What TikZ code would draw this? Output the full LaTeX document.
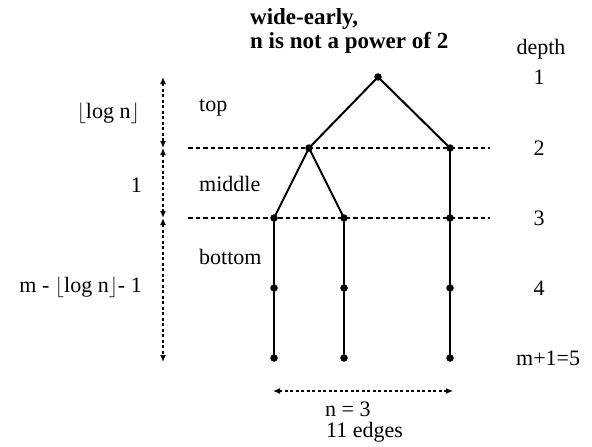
\documentclass[tikz,border=0pt]{standalone}
\usepackage{fontspec}
\setmainfont{Liberation Serif}
\usetikzlibrary{arrows.meta}
\begin{document}
\begin{tikzpicture}[x=1pt,y=-1pt,
  dot/.style={circle,fill=black,inner sep=0pt,minimum size=7.5pt},
  edge/.style={line width=2pt},
  levelline/.style={line width=1.6pt,dash pattern=on 4.5pt off 3pt},
  span/.style={line width=2pt,dash pattern=on 3pt off 2.5pt,{Latex[length=7pt,width=6pt]}-{Latex[length=7pt,width=6pt]}},
  lbl/.style={font=\fontsize{22}{22}\selectfont,inner sep=0pt},
  ttl/.style={font=\fontsize{23}{23}\selectfont\bfseries,inner sep=0pt,anchor=base west},
]
\useasboundingbox (0,0) rectangle (592,447);
% level lines
\coordinate (l1a) at (188,148); \coordinate (l1b) at (490,148);
\coordinate (l2a) at (188,218); \coordinate (l2b) at (490,218);
\draw[levelline] (l1a) -- (l1b);
\draw[levelline] (l2a) -- (l2b);
% tree
\node[dot] (r) at (378,77) {};
\node[dot] (a) at (309,148) {};
\node[dot] (b) at (450,148) {};
\node[dot] (c) at (274,218) {};
\node[dot] (d) at (344,218) {};
\node[dot] (e) at (450,218) {};
\node[dot] (f) at (274,288) {};
\node[dot] (g) at (344,288) {};
\node[dot] (h) at (450,288) {};
\node[dot] (i) at (274,358) {};
\node[dot] (j) at (344,358) {};
\node[dot] (k) at (450,358) {};
\draw[edge] (r.center) -- (a.center);
\draw[edge] (r.center) -- (b.center);
\draw[edge] (a.center) -- (c.center);
\draw[edge] (a.center) -- (d.center);
\draw[edge] (b.center) -- (e.center);
\draw[edge] (c.center) -- (f.center) -- (i.center);
\draw[edge] (d.center) -- (g.center) -- (j.center);
\draw[edge] (e.center) -- (h.center) -- (k.center);
% vertical spans
\coordinate (v0) at (163,77);
\coordinate (v1) at (163,148);
\coordinate (v2) at (163,218);
\coordinate (v3) at (163,362);
\draw[span] (v0) -- (v1);
\draw[span] (v1) -- (v2);
\draw[span] (v2) -- (v3);
% horizontal span
\coordinate (hl) at (273,391);
\coordinate (hr) at (453,391);
\draw[span] (hl) -- (hr);
% title
\node[ttl] (t1) at (250,24) {wide-early,};
\node[ttl] (t2) at (250,48) {n is not a power of 2};
% depth column
\node[lbl,anchor=base] (dh) at (541,54) {depth};
\node[lbl] (d1) at (539,77) {1};
\node[lbl] (d2) at (539,148) {2};
\node[lbl] (d3) at (539,218) {3};
\node[lbl] (d4) at (539,288) {4};
\node[lbl,anchor=west] (d5) at (516,358) {m+1=5};
% left labels
\node[lbl,anchor=east] (lg) at (140,113) {\(\bigl\lfloor\)log n\(\bigr\rfloor\)};
\node[lbl,anchor=east] (one) at (142,185) {1};
\node[lbl,anchor=east] (rest) at (142,287) {m - \(\bigl\lfloor\)log n\(\bigr\rfloor\)- 1};
\node[lbl,anchor=west] (top) at (199,108) {top};
\node[lbl,anchor=west] (mid) at (199,184) {middle};
\node[lbl,anchor=west] (bot) at (199,257) {bottom};
% bottom labels
\node[lbl,anchor=base west] (nn) at (325,416) {n = 3};
\node[lbl,anchor=base west] (ed) at (326,437) {11 edges};
\end{tikzpicture}
\end{document}
